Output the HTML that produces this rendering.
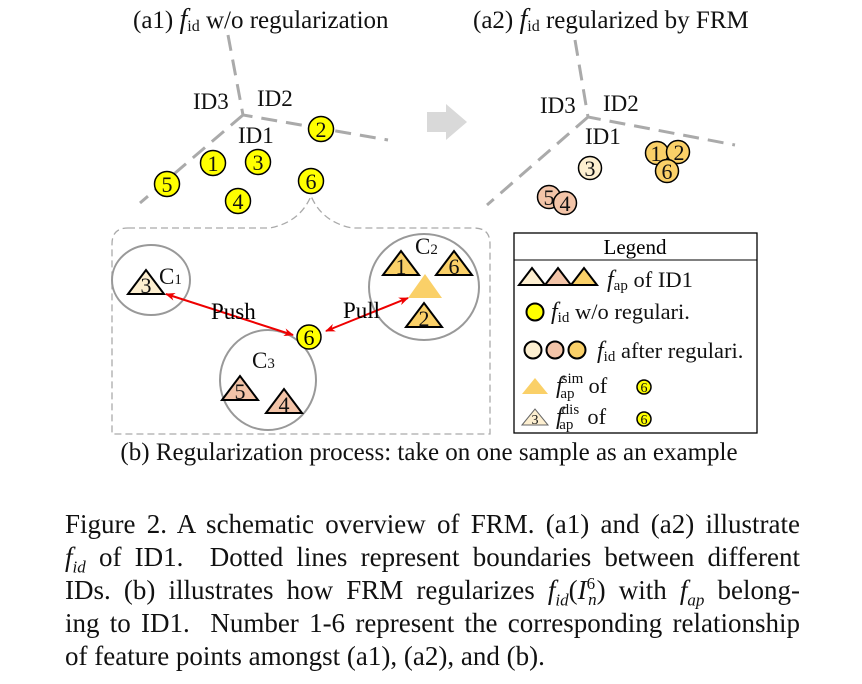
<!DOCTYPE html>
<html><head><meta charset="utf-8"><style>
html,body{margin:0;padding:0;background:#fff;}
svg{display:block;font-family:"Liberation Serif",serif;}
.cap{position:absolute;left:65px;top:508px;width:735px;font-family:"Liberation Serif",serif;font-size:27px;color:#111;}
.cap div{height:33px;line-height:33px;text-align:justify;text-align-last:justify;white-space:nowrap;}
.cap div.l{text-align-last:left;}
.cap i{font-style:italic;}
.cap sub,.cap sup{font-size:17px;line-height:0;}
</style></head><body>
<svg width="862" height="684" viewBox="0 0 862 684" xmlns="http://www.w3.org/2000/svg">
<defs>
<marker id="ah" markerWidth="10" markerHeight="8" refX="9" refY="4" orient="auto-start-reverse" markerUnits="userSpaceOnUse"><path d="M0,0 L10,4 L0,8 L3,4Z" fill="#e00"/></marker>
</defs>
<g font-size="25" fill="#111">
<text x="133" y="28">(a1) <tspan font-style="italic" font-size="28">f</tspan><tspan font-size="16" dy="3">id</tspan><tspan dy="-3"> w/o regularization</tspan></text>
<text x="473" y="28">(a2) <tspan font-style="italic" font-size="28">f</tspan><tspan font-size="16" dy="3">id</tspan><tspan dy="-3"> regularized by FRM</tspan></text>
</g>
<g stroke="#aaa" stroke-width="3" stroke-dasharray="16,9" fill="none">
<path d="M228,35 L243,115 L388,140 M243,115 L140,203"/>
<path d="M575,40 L588,117 L735,145 M588,117 L487,205"/>
</g>
<g font-size="23" fill="#111">
<text x="193" y="109">ID3</text><text x="257" y="106">ID2</text><text x="238" y="143">ID1</text>
<text x="540" y="113">ID3</text><text x="603" y="111">ID2</text><text x="585" y="144">ID1</text>
</g>
<path d="M427,112 L446,112 L446,104 L467,122 L446,140 L446,132 L427,132Z" fill="#d9d9d9"/>
<g stroke="#000" stroke-width="1.5">
<g fill="#ffff00">
<circle cx="213" cy="163" r="12.5"/><circle cx="258" cy="162" r="12.5"/><circle cx="321" cy="129" r="12.5"/>
<circle cx="167" cy="184" r="12.5"/><circle cx="311" cy="181" r="12.5"/><circle cx="238" cy="201" r="12.5"/>
</g>
<circle cx="590" cy="168" r="11.5" fill="#fdefd0"/>
<circle cx="549" cy="197" r="11.5" fill="#f3c4a8"/><circle cx="565" cy="203" r="11.5" fill="#f3c4a8"/>
<circle cx="657" cy="153" r="11.5" fill="#fad068"/><circle cx="678" cy="152" r="11.5" fill="#fad068"/><circle cx="667" cy="171" r="11.5" fill="#fad068"/>
</g>
<g font-size="22" text-anchor="middle" fill="#111">
<text x="213" y="171">1</text><text x="258" y="170">3</text><text x="321" y="137">2</text>
<text x="167" y="192">5</text><text x="311" y="189">6</text><text x="238" y="209">4</text>
<text x="590" y="176">3</text><text x="549" y="205">5</text><text x="565" y="211">4</text>
<text x="656" y="161">1</text><text x="679" y="160">2</text><text x="667" y="179">6</text>
</g>
<path d="M128,228 L270,228 Q300,222 311,196 Q322,222 352,228 L474,228 Q490,228 490,244 L490,434 L112,434 L112,244 Q112,228 128,228Z" fill="none" stroke="#aaa" stroke-width="1.3" stroke-dasharray="7,4"/>
<g fill="none" stroke="#999" stroke-width="2">
<ellipse cx="151" cy="280" rx="39" ry="35"/>
<ellipse cx="424" cy="287" rx="55" ry="53"/>
<ellipse cx="268" cy="380" rx="48" ry="50"/>
</g>
<g stroke="#000" stroke-width="2">
<path d="M128,294 L146,270 L164,294Z" fill="#fdefd0"/>
<path d="M383,275 L401,251 L419,275Z" fill="#fad068"/>
<path d="M436,275 L454,251 L472,275Z" fill="#fad068"/>
<path d="M406,327 L424,303 L442,327Z" fill="#fad068"/>
<path d="M222,400 L240,376 L258,400Z" fill="#f3c4a8"/>
<path d="M266,413 L284,389 L302,413Z" fill="#f3c4a8"/>
</g>
<path d="M408,298 L425,274 L442,298Z" fill="#fad068"/>
<g font-size="22" text-anchor="middle" fill="#111">
<text x="146" y="293">3</text><text x="401" y="274">1</text><text x="454" y="274">6</text><text x="424" y="326">2</text>
<text x="240" y="399">5</text><text x="284" y="412">4</text>
</g>
<g font-size="23" fill="#111"><text x="159" y="284">C<tspan font-size="15">1</tspan></text>
<text x="415" y="254">C<tspan font-size="15">2</tspan></text>
<text x="252" y="368">C<tspan font-size="15">3</tspan></text></g>
<g stroke="#e00" stroke-width="2" fill="none">
<path d="M166,294 L293,335" marker-start="url(#ah)" marker-end="url(#ah)"/>
<path d="M326,331 L408,298" marker-start="url(#ah)" marker-end="url(#ah)"/>
</g>
<circle cx="309" cy="337" r="12" fill="#ffff00" stroke="#000" stroke-width="1.5"/>
<text x="309" y="345" font-size="22" text-anchor="middle">6</text>
<text x="211" y="319" font-size="23">Push</text><text x="343" y="318" font-size="23">Pull</text>
<rect x="514" y="233" width="243" height="200" fill="none" stroke="#000" stroke-width="1.3"/>
<line x1="514" y1="260" x2="757" y2="260" stroke="#000" stroke-width="1"/>
<text x="635" y="254" font-size="21" text-anchor="middle">Legend</text>
<g stroke="#000" stroke-width="2">
<path d="M519,285 L532,268 L545,285Z" fill="#fdefd0"/>
<path d="M545,285 L558,268 L571,285Z" fill="#f3c4a8"/>
<path d="M571,285 L584,268 L597,285Z" fill="#fad068"/>
<circle cx="535" cy="312" r="8.5" fill="#ffff00"/>
<circle cx="533" cy="350" r="8.5" fill="#fdefd0"/><circle cx="555" cy="350" r="8.5" fill="#f3c4a8"/><circle cx="577" cy="350" r="8.5" fill="#fad068"/>
<circle cx="644" cy="387" r="7" fill="#ffff00" stroke-width="1.5"/>
<circle cx="644" cy="419" r="7" fill="#ffff00" stroke-width="1.5"/>
</g>
<path d="M522,394 L535,378 L548,394Z" fill="#fad068"/>
<path d="M522,425 L535,409 L548,425Z" fill="#fdefd0" stroke="#666" stroke-width="1"/>
<g font-size="22.5" fill="#111">
<text x="607" y="287"><tspan font-style="italic" font-size="24">f</tspan><tspan font-size="15" dy="3">ap</tspan><tspan dy="-3"> of ID1</tspan></text>
<text x="551" y="319"><tspan font-style="italic" font-size="24">f</tspan><tspan font-size="15" dy="3">id</tspan><tspan dy="-3"> w/o regulari.</tspan></text>
<text x="597" y="358"><tspan font-style="italic" font-size="24">f</tspan><tspan font-size="15" dy="3">id</tspan><tspan dy="-3">  after regulari.</tspan></text>
<text x="556" y="393"><tspan font-style="italic" font-size="24">f</tspan><tspan font-size="15" dx="-1" dy="-10">sim</tspan><tspan font-size="15" dx="-23" dy="15">ap</tspan><tspan dx="14" dy="-5">of</tspan></text>
<text x="556" y="424"><tspan font-style="italic" font-size="24">f</tspan><tspan font-size="15" dx="-1" dy="-10">dis</tspan><tspan font-size="15" dx="-20" dy="15">ap</tspan><tspan dx="14" dy="-5">of</tspan></text>
<text x="535" y="424" font-size="14" text-anchor="middle">3</text>
<text x="644" y="392" font-size="14" text-anchor="middle">6</text>
<text x="644" y="424" font-size="14" text-anchor="middle">6</text>
</g>
<text x="429" y="460" font-size="25" text-anchor="middle" fill="#111">(b) Regularization process: take on one sample as an example</text>
</svg>
<div class="cap">
<div>Figure 2. A schematic overview of FRM. (a1) and (a2) illustrate</div>
<div><i>f<sub>id</sub></i> of ID1. &nbsp;Dotted lines represent boundaries between different</div>
<div>IDs. (b) illustrates how FRM regularizes <i>f<sub>id</sub></i>(<i>I</i><sup>6</sup><sub style="margin-left:-7px"><i>n</i></sub>) with <i>f<sub>ap</sub></i> belong-</div>
<div>ing to ID1. &nbsp;Number 1-6 represent the corresponding relationship</div>
<div class="l">of feature points amongst (a1), (a2), and (b).</div>
</div>
</body></html>
